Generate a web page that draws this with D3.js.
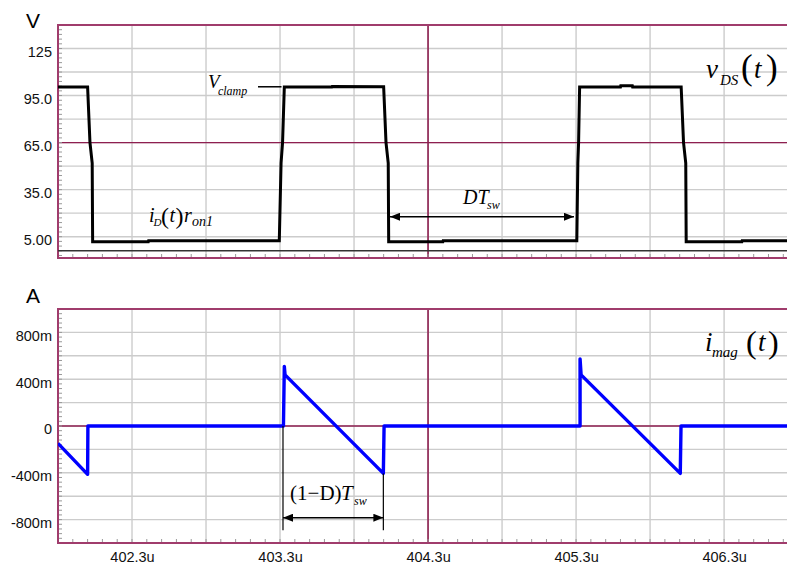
<!DOCTYPE html>
<html><head><meta charset="utf-8">
<script src="https://cdn.jsdelivr.net/npm/d3@7"></script>
<style>body{margin:0;background:#fff}svg{display:block}</style>
</head><body>
<svg id="c" width="787" height="567"></svg>
<script>
// ---------- data ----------
const vdsTime  = [401.8, 402.0, 402.016, 402.031, 402.034, 402.41, 402.412, 403.295, 403.307, 403.317, 403.329, 403.65, 403.652, 404.0, 404.016, 404.031, 404.034, 404.40, 404.402, 405.305, 405.312, 405.317, 405.324, 405.60, 405.602, 405.68, 405.682, 406.01, 406.026, 406.041, 406.044, 406.42, 406.422, 406.725];
const vdsValue = [100.5, 100.5, 65, 52, 1.8, 1.8, 2.4, 2.4, 52, 65, 100.5, 100.5, 100.8, 100.6, 65, 52, 1.8, 1.8, 2.4, 2.4, 52, 65, 100.5, 100.5, 101.3, 101.3, 100.5, 100.5, 65, 52, 1.8, 1.8, 2.4, 2.4];

const imagTime  = [401.8, 402.0, 402.002, 403.321, 403.323, 403.329, 403.334, 403.998, 404.003, 405.326, 405.327, 405.327, 405.334, 406.004, 406.009, 406.725];
const imagValue = [-0.148, -0.413, 0, 0, 0, 0.51, 0.437, -0.405, 0, 0, 0, 0.574, 0.437, -0.405, 0, 0];

const xTickValues = [402.3, 403.3, 404.3, 405.3, 406.3];
const xTickLabels = ["402.3u", "403.3u", "404.3u", "405.3u", "406.3u"];
const vTickValues = [125, 95, 65, 35, 5];
const vTickLabels = ["125", "95.0", "65.0", "35.0", "5.00"];
const iTickValues = [0.8, 0.4, 0, -0.4, -0.8];
const iTickLabels = ["800m", "400m", "0", "-400m", "-800m"];
const vGridValues = [125, 110, 95, 80, 65, 50, 35, 20, 5];
const iGridValues = [0.8, 0.6, 0.4, 0.2, 0, -0.2, -0.4, -0.6, -0.8];
const xGridValues = [402.3, 402.8, 403.3, 403.8, 404.3, 404.8, 405.3, 405.8, 406.3];

// ---------- layout ----------
const L = 58, R = 787;
const top1 = 25, bot1 = 258, top2 = 309, bot2 = 543;
const svg = d3.select("#c");
const x = d3.scaleLinear().domain([401.8, 406.725]).range([L, R]);
const yV = d3.scaleLinear().domain([-8.6, 140]).range([bot1, top1]);
const yI = d3.scaleLinear().domain([-1, 1]).range([bot2, top2]);

const GRID = "#cccccc", CRIM = "#8e1f50", BORDER = "#a03c6c";
const SANS = "'Liberation Sans', Arial, sans-serif";
const SERIF = "'Liberation Serif', 'Times New Roman', serif";

const defs = svg.append("defs");
defs.append("clipPath").attr("id", "cp1").append("rect").attr("x", L).attr("y", top1).attr("width", R - L).attr("height", bot1 - top1);
defs.append("clipPath").attr("id", "cp2").append("rect").attr("x", L).attr("y", top2).attr("width", R - L).attr("height", bot2 - top2);
defs.append("marker").attr("id", "arr").attr("viewBox", "0 0 10 8").attr("refX", 10).attr("refY", 4)
  .attr("markerWidth", 10).attr("markerHeight", 8).attr("markerUnits", "userSpaceOnUse")
  .attr("orient", "auto-start-reverse")
  .append("path").attr("d", "M0,0L10,4L0,8Z").attr("fill", "#000");

function panel(y, yTop, yBot, gridVals, crimY, minorStep, minorBase) {
  const g = svg.append("g");
  g.selectAll(null).data(gridVals).join("line")
    .attr("x1", L).attr("x2", R).attr("y1", d => y(d)).attr("y2", d => y(d))
    .attr("stroke", GRID).attr("stroke-width", 1.4);
  g.selectAll(null).data(xGridValues).join("line")
    .attr("x1", d => x(d)).attr("x2", d => x(d)).attr("y1", yTop).attr("y2", yBot)
    .attr("stroke", GRID).attr("stroke-width", 1.4);
  g.append("line").attr("x1", L).attr("x2", R).attr("y1", y(crimY)).attr("y2", y(crimY))
    .attr("stroke", CRIM).attr("stroke-width", 1.4);
  g.append("line").attr("x1", x(404.3)).attr("x2", x(404.3)).attr("y1", yTop).attr("y2", yBot)
    .attr("stroke", CRIM).attr("stroke-width", 1.6);
  const xm = d3.range(401.9, 406.72, 0.1);
  g.selectAll(null).data(xm).join("line")
    .attr("x1", d => x(d)).attr("x2", d => x(d)).attr("y1", yBot).attr("y2", yBot - 4)
    .attr("stroke", "#999").attr("stroke-width", 1);
  const [d0, d1] = y.domain();
  const ym = d3.range(Math.ceil((d0 - minorBase) / minorStep), Math.floor((d1 - minorBase) / minorStep) + 1)
    .map(k => minorBase + k * minorStep);
  g.selectAll(null).data(ym).join("line")
    .attr("x1", L).attr("x2", L + 4).attr("y1", d => y(d)).attr("y2", d => y(d))
    .attr("stroke", "#999").attr("stroke-width", 1);
  g.append("path").attr("d", `M${R},${yTop}H${L}V${yBot}H${R}`)
    .attr("fill", "none").attr("stroke", BORDER).attr("stroke-width", 2);
  return g;
}

panel(yV, top1, bot1, vGridValues, 65, 3, 5);
panel(yI, top2, bot2, iGridValues, 0, 0.04, 0);

svg.append("line").attr("x1", L).attr("x2", R).attr("y1", yV(-4)).attr("y2", yV(-4))
  .attr("stroke", "#333").attr("stroke-width", 1.5);

const ayV = svg.append("g").attr("transform", `translate(${L},0)`)
  .call(d3.axisLeft(yV).tickValues(vTickValues).tickFormat((d, i) => vTickLabels[i]).tickSize(0).tickPadding(6));
const ayI = svg.append("g").attr("transform", `translate(${L},0)`)
  .call(d3.axisLeft(yI).tickValues(iTickValues).tickFormat((d, i) => iTickLabels[i]).tickSize(0).tickPadding(6));
const ax = svg.append("g").attr("transform", `translate(0,${bot2})`)
  .call(d3.axisBottom(x).tickValues(xTickValues).tickFormat((d, i) => xTickLabels[i]).tickSize(0).tickPadding(9));
[ayV, ayI, ax].forEach(a => {
  a.select(".domain").remove();
  a.selectAll("text").attr("font-family", SANS).attr("font-size", 14.5).attr("fill", "#111");
});
ayV.selectAll("text").attr("dy", "0.54em");
ayI.selectAll("text").attr("dy", "0.54em");

svg.append("text").attr("x", 33).attr("y", 28).attr("text-anchor", "middle")
  .attr("font-family", SANS).attr("font-size", 21).text("V");
svg.append("text").attr("x", 33).attr("y", 303).attr("text-anchor", "middle")
  .attr("font-family", SANS).attr("font-size", 21).text("A");

const vdsData = vdsTime.map((t, i) => [t, vdsValue[i]]);
const imagData = imagTime.map((t, i) => [t, imagValue[i]]);
svg.append("path").datum(vdsData).attr("clip-path", "url(#cp1)")
  .attr("d", d3.line().x(d => x(d[0])).y(d => yV(d[1])))
  .attr("fill", "none").attr("stroke", "#000").attr("stroke-width", 3).attr("stroke-linejoin", "miter");
svg.append("path").datum(imagData).attr("clip-path", "url(#cp2)")
  .attr("d", d3.line().x(d => x(d[0])).y(d => yI(d[1])))
  .attr("fill", "none").attr("stroke", "#0000ff").attr("stroke-width", 3.4).attr("stroke-linejoin", "round");

function mathLabel(px, py, parts) {
  const t = svg.append("text").attr("font-family", SERIF).attr("fill", "#000");
  parts.forEach(p => {
    t.append("tspan").attr("x", px + p[1]).attr("y", py + p[2])
      .attr("font-size", p[3]).attr("font-style", p[4] ? "italic" : "normal").text(p[0]);
  });
}
// v_DS(t)
mathLabel(x(406.178), yV(106.2), [["v", 0, 0, 27, 1], ["DS", 14, 7, 15, 1], ["(", 35, 1, 35, 0], ["t", 48, 0, 27, 1], [")", 60, 1, 35, 0]]);
// i_mag(t)
mathLabel(x(406.171), yI(0.64), [["i", 0, 0, 27, 1], ["mag", 7, 6, 15, 1], ["(", 41, 2, 32, 0], ["t", 53, 0, 27, 1], [")", 63, 2, 32, 0]]);
// V_clamp
mathLabel(x(402.813), yV(100), [["V", 0, 0, 19, 1], ["clamp", 10, 7, 12, 1]]);
svg.append("line").attr("x1", x(403.151)).attr("x2", x(403.31)).attr("y1", yV(100.6)).attr("y2", yV(100.6))
  .attr("stroke", "#000").attr("stroke-width", 1.5);
// i_D(t) r_on1
mathLabel(x(402.415), yV(14.4), [["i", 0, 0, 20, 1], ["D", 4.5, 4, 11, 1], ["(", 12, 2, 24, 0], ["t", 20.5, 0, 20, 1], [")", 26.5, 2, 24, 0], ["r", 35, 0, 20, 1], ["on1", 43, 4, 14, 1]]);
// DT_sw
mathLabel(x(404.536), yV(26), [["DT", 0, 0, 20, 1], ["sw", 24, 5, 12, 1]]);
svg.append("line").attr("x1", x(404.043)).attr("x2", x(405.286)).attr("y1", yV(17.7)).attr("y2", yV(17.7))
  .attr("stroke", "#000").attr("stroke-width", 1.5)
  .attr("marker-start", "url(#arr)").attr("marker-end", "url(#arr)");
// (1-D)T_sw
svg.append("line").attr("x1", x(403.32)).attr("x2", x(403.32)).attr("y1", yI(0)).attr("y2", yI(-0.89))
  .attr("stroke", "#000").attr("stroke-width", 1.2);
svg.append("line").attr("x1", x(403.998)).attr("x2", x(403.998)).attr("y1", yI(-0.405)).attr("y2", yI(-0.89))
  .attr("stroke", "#000").attr("stroke-width", 1.2);
svg.append("line").attr("x1", x(403.32)).attr("x2", x(403.998)).attr("y1", yI(-0.784)).attr("y2", yI(-0.784))
  .attr("stroke", "#000").attr("stroke-width", 1.5)
  .attr("marker-start", "url(#arr)").attr("marker-end", "url(#arr)");
mathLabel(x(403.368), yI(-0.63), [["(1\u2212D)", 0, 0, 21, 0], ["T", 51, 0, 21, 1], ["sw", 64, 5, 12, 1]]);
</script>
</body></html>
